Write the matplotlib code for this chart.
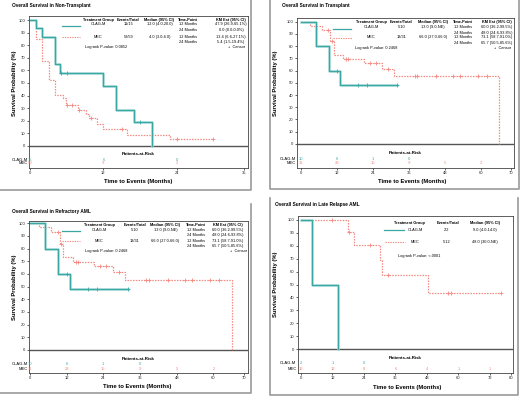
import matplotlib
matplotlib.use('Agg')
import matplotlib.pyplot as plt
from matplotlib.lines import Line2D

plt.rcParams['font.family'] = ['Liberation Sans', 'DejaVu Sans']

W, H = 520, 396
TEAL = '#3aa7a3'
SALMON = '#f28b82'

# ---------------- data ----------------
# Panel 1: Non-Transplant
p1_clag_t = [0, 1, 2, 4, 4.9, 12, 14, 17, 20]
p1_clag_s = [100, 93.3, 86.7, 64.8, 57.8, 47.9, 28.8, 19.2, 0]
p1_clag_ct = [5.1, 6.05, 18.0]
p1_clag_cs = [57.8, 57.8, 19.2]
p1_mec_t = [0, 0.9, 2, 3.1, 4, 5.4, 5.9, 7.9, 9.1, 9.6, 11, 12, 15.9, 22.9, 30]
p1_mec_s = [100, 84.7, 67.8, 52.5, 40.7, 38.3, 32.2, 28.6, 25.0, 22.5, 17.6, 13.4, 8.4, 5.4, 5.4]
p1_mec_ct = [6.1, 6.9, 8.0, 10.0, 15.05, 24.0, 30.0]
p1_mec_cs = [32.2, 32.2, 28.6, 22.5, 13.4, 5.4, 5.4]
p1_xticks = [0, 12, 24, 35]
p1_risk_t = [0, 12, 24]
p1_risk_clag = [15, 6, 0]
p1_risk_mec = [59, 9, 2]
p1_legend = [["CLAG-M", "11/15", "12.0 (4.0-20.0)", "12 Months", "47.9 (26.9-65.1%)", "24 Months", "0.0 (0.0-0.0%)"],
             ["MEC", "52/59", "4.0 (3.0-6.0)", "12 Months", "13.4 (6.6-27.1%)", "24 Months", "5.4 (1.5-19.4%)"]]
p1_pval = "Logrank P-value: 0.0852"

# Panels 2 and 3: Transplant / Refractory AML (same data)
tr_clag_t = [0, 5, 9.2, 13, 32]
tr_clag_s = [100, 80, 60, 48, 48]
tr_clag_ct = [12, 19.1, 22, 32]
tr_clag_cs = [60, 48, 48, 48]
tr_mec_t = [0, 3, 7, 9.8, 10.9, 14, 21, 27, 31, 66]
tr_mec_s = [100, 96.8, 93.5, 83.9, 73.1, 69.7, 66.1, 61.2, 55.5, 0]
tr_mec_ct = [9.1, 10.2, 15.1, 15.8, 23, 25, 29.1, 38, 38.8, 45, 50.6, 53, 58.9, 61.9]
tr_mec_cs = [93.5, 83.9, 69.7, 69.7, 66.1, 66.1, 61.2, 55.5, 55.5, 55.5, 55.5, 55.5, 55.5, 55.5]
tr_xticks = [0, 12, 24, 36, 48, 60, 70]
tr_risk_t = [0, 12, 24, 36, 48, 60]
tr_risk_clag = [10, 6, 1, 0]
tr_risk_mec = [31, 23, 15, 9, 5, 2]
tr_legend = [["CLAG-M", "5/10", "13.0 (9.0-NE)", "12 Months", "60.0 (36.2-99.5%)", "24 Months", "48.0 (24.6-93.8%)"],
             ["MEC", "13/31", "66.0 (27.0-66.0)", "12 Months", "73.1 (58.7-91.0%)", "24 Months", "65.7 (50.5-85.6%)"]]
tr_pval = "Logrank P-value: 0.2468"

# Panel 4: Late Relapse AML
lr_clag_t = [0, 4, 14]
lr_clag_s = [100, 50, 0]
lr_mec_t = [0, 18, 20.2, 30, 31, 48.5, 76.1]
lr_mec_s = [100, 90.9, 80.8, 69.3, 57.7, 43.3, 43.3]
lr_mec_ct = [12, 18.4, 26.3, 33, 56.1, 57, 76.1]
lr_mec_cs = [100, 90.9, 80.8, 57.7, 43.3, 43.3, 43.3]
lr_xticks = [0, 12, 24, 36, 48, 60, 72, 80]
lr_risk_t = [0, 12, 24, 36, 48, 60, 72]
lr_risk_clag = [2, 1, 0]
lr_risk_mec = [12, 12, 8, 6, 4, 1, 1]
lr_legend = [["CLAG-M", "2/2", "9.0 (4.0-14.0)"],
             ["MEC", "5/12", "48.0 (30.0-NE)"]]
lr_pval = "Logrank P-value: <.0001"

titles = ["Overall Survival in Non-Transplant", "Overall Survival in Transplant",
          "Overall Survival in Refractory AML", "Overall Survival in Late Relapse AML"]

# ---------------- figure ----------------
fig = plt.figure(figsize=(W / 100, H / 100), dpi=100)
fig.patch.set_facecolor('white')

FS_T = 3.45  # title
FS_L = 4.2   # axis labels
FS_K = 3.0   # ticks
FS_G = 2.75  # legend


def ftext(x, y, s, **kw):
    fig.text(x / W, 1 - y / H, s, **kw)


def fline(xs, ys, **kw):
    fig.add_artist(Line2D([x / W for x in xs], [1 - y / H for y in ys],
                          transform=fig.transFigure, **kw))


def make_ax(l, t, r, b, xlim, ylim, xticks):
    ax = fig.add_axes([l / W, 1 - b / H, (r - l) / W, (b - t) / H])
    ax.set_xlim(xlim)
    ax.set_ylim(ylim)
    ax.set_xticks(xticks)
    ax.set_yticks(range(0, 101, 10))
    ax.tick_params(labelsize=FS_K, length=1.5, width=0.5, pad=1, colors='#222')
    for sp in ax.spines.values():
        sp.set_linewidth(0.6)
        sp.set_color('#444')
    ax.axhline(0, color='#555', lw=1.0)
    return ax


def curves(ax, ct, cs, cct, ccs, mt, ms, mct, mcs):
    ax.step(mt, ms, where='post', color=SALMON, lw=0.9, ls=(0, (1.2, 1.0)))
    ax.plot(mct, mcs, ls='none', marker='+', ms=3.2, mew=0.6, color=SALMON)
    ax.step(ct, cs, where='post', color='#a8dcd9', lw=1.8)
    ax.step(ct, cs, where='post', color=TEAL, lw=0.9)
    if cct:
        ax.plot(cct, ccs, ls='none', marker='+', ms=3.2, mew=0.6, color=TEAL)


def risk(ax, tc, nc, tm, nm, yh, yc, ym):
    xm = sum(ax.get_xlim()) / 2
    ax.text(xm, yh, "Patients-at-Risk", ha='center', va='center', fontsize=3.2, fontweight='bold')
    for t, n in zip(tc, nc):
        ax.text(t, yc, str(n), ha='center', va='center', fontsize=FS_K, color=TEAL)
    for t, n in zip(tm, nm):
        ax.text(t, ym, str(n), ha='center', va='center', fontsize=FS_K, color=SALMON)
    tr = ax.get_yaxis_transform()
    ax.text(-0.006, yc, "CLAG-M", transform=tr, ha='right', va='center', fontsize=FS_K)
    ax.text(-0.006, ym, "MEC", transform=tr, ha='right', va='center', fontsize=FS_K)


def legend5(cols, rows, ys, samp, pval, pvx, cenx):
    hdr = ["Treatment Group", "Events/Total", "Median (95% CI)", "Time-Point", "KM Est (95% CI)"]
    for cx, h in zip(cols, hdr):
        ftext(cx, ys[0], h, ha='center', va='center', fontsize=FS_G, fontweight='bold')
    for r, (row, y1, y2) in enumerate(zip(rows, (ys[1], ys[3]), (ys[2], ys[4]))):
        for cx, s in zip(cols, row[:5]):
            ftext(cx, y1, s, ha='center', va='center', fontsize=FS_G)
        ftext(cols[3], y2, row[5], ha='center', va='center', fontsize=FS_G)
        ftext(cols[4], y2, row[6], ha='center', va='center', fontsize=FS_G)
    fline(samp[0], [ys[1] + 1.5] * 2, color=TEAL, lw=0.9)
    fline(samp[1], [ys[3] + 0.5] * 2, color=SALMON, lw=0.8, ls=(0, (1.2, 1.0)))
    ftext(pvx, ys[5], pval, ha='left', va='center', fontsize=FS_G)
    ftext(cenx, ys[5], "+  Censor", ha='right', va='center', fontsize=FS_G)


def labels(ylab_xy, xlab_xy):
    ftext(ylab_xy[0], ylab_xy[1], "Survival Probability (%)", rotation=90, ha='center',
          va='center', fontsize=FS_L, fontweight='bold')
    ftext(xlab_xy[0], xlab_xy[1], "Time to Events (Months)", ha='center', va='center',
          fontsize=FS_L, fontweight='bold')


# ---- Panel 1 ----
ax1 = make_ax(29, 16, 248, 168, (-0.2, 35.7), (-17.5, 103.2), p1_xticks)
curves(ax1, p1_clag_t, p1_clag_s, p1_clag_ct, p1_clag_cs, p1_mec_t, p1_mec_s, p1_mec_ct, p1_mec_cs)
risk(ax1, p1_risk_t, p1_risk_clag, p1_risk_t, p1_risk_mec, -6.3, -11.1, -13.9)
ftext(12, 6, titles[0], ha='left', va='center', fontsize=FS_T, fontweight='bold')
labels((15, 83), (138, 182))
legend5([98.3, 128.5, 159.5, 188, 231], p1_legend, [19.7, 24, 29.7, 36.7, 41.7, 47.3],
        [(61.7, 80), (61.7, 80)], p1_pval, 85, 245)

# ---- Panel 2 ----
ax2 = make_ax(297, 18, 514, 168, (-1.3, 71), (-19.7, 103.0), tr_xticks)
curves(ax2, tr_clag_t, tr_clag_s, tr_clag_ct, tr_clag_cs, tr_mec_t, tr_mec_s, tr_mec_ct, tr_mec_cs)
risk(ax2, tr_risk_t[:4], tr_risk_clag, tr_risk_t, tr_risk_mec, -7.4, -12.3, -15.6)
ftext(282, 6, titles[1], ha='left', va='center', fontsize=FS_T, fontweight='bold')
labels((276, 83), (411.7, 181))
legend5([371, 401.5, 433, 463.3, 497], tr_legend, [22, 27.3, 33, 37.3, 42.7, 48.3],
        [(333, 350.7), (333, 352)], tr_pval, 355.3, 511.3)

# ---- Panel 3 ----
ax3 = make_ax(29, 221, 248, 373, (-0.3, 71.3), (-18.3, 101.8), tr_xticks)
curves(ax3, tr_clag_t, tr_clag_s, tr_clag_ct, tr_clag_cs, tr_mec_t, tr_mec_s, tr_mec_ct, tr_mec_cs)
risk(ax3, tr_risk_t[:4], tr_risk_clag, tr_risk_t, tr_risk_mec, -7.1, -11.1, -15.1)
ftext(12, 212, titles[2], ha='left', va='center', fontsize=FS_T, fontweight='bold')
labels((15, 287), (137.3, 386.7))
legend5([99.2, 135, 165.5, 195.8, 228], tr_legend, [225, 230, 235, 240.7, 245.7, 251.3],
        [(61.7, 80), (61.7, 80)], tr_pval, 85, 246.7)

# ---- Panel 4 ----
ax4 = make_ax(297.7, 216, 513, 373, (-1.26, 80.8), (-18.6, 103.1), lr_xticks)
curves(ax4, lr_clag_t, lr_clag_s, [], [], lr_mec_t, lr_mec_s, lr_mec_ct, lr_mec_cs)
risk(ax4, lr_risk_t[:3], lr_risk_clag, lr_risk_t, lr_risk_mec, -7.0, -10.9, -15.5)
ftext(275, 205, titles[3], ha='left', va='center', fontsize=FS_T, fontweight='bold')
labels((275, 284.5), (406.7, 387.7))
for cx, h in zip([409.7, 447.7, 484.7], ["Treatment Group", "Events/Total", "Median (95% CI)"]):
    ftext(cx, 223.3, h, ha='center', va='center', fontsize=FS_G, fontweight='bold')
for row, y in zip(lr_legend, [230, 242.3]):
    for cx, s in zip([415, 446.5, 484.8], row):
        ftext(cx, y, s, ha='center', va='center', fontsize=FS_G)
fline((384, 404), (230, 230), color=TEAL, lw=0.9)
fline((385.3, 404.7), (242.3, 242.3), color=SALMON, lw=0.8, ls=(0, (1.2, 1.0)))
ftext(398, 256.3, lr_pval, ha='left', va='center', fontsize=FS_G)

# ---- panel frames ----
FR = dict(color='#9a9a9a', lw=1.2)
fline((251, 251, 0), (0, 190, 190), **FR)
fline((270, 270, 519, 519), (0, 189, 189, 0), **FR)
fline((251, 251, 0), (204, 393, 393), **FR)
fline((270, 270, 518, 518), (198, 395, 395, 198), **FR)

fig.savefig('out.png', dpi=100, facecolor='white')
